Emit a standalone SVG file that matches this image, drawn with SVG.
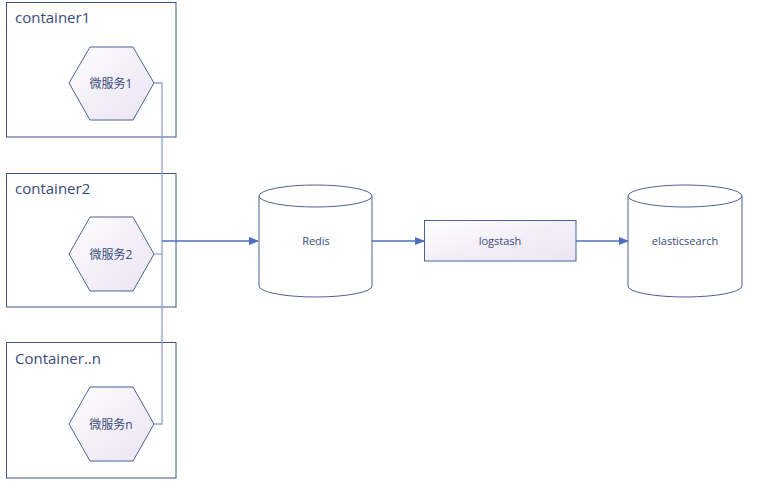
<svg xmlns="http://www.w3.org/2000/svg" width="761" height="483" viewBox="0 0 761 483">
<style>
.box{fill:#fff;stroke:#3d5488;stroke-width:1}
.hex{fill:url(#g);stroke:#4a6398;stroke-width:1}
.cyl{fill:#fff;stroke:#4a6398;stroke-width:1}
.t1{font-family:"Open Sans","Noto Sans CJK SC",sans-serif;font-size:15px;fill:#3a4a78}
.t2{font-family:"Open Sans","Noto Sans CJK SC",sans-serif;font-size:11px;fill:#3a4a78}
.t3{font-family:"Open Sans","Noto Sans CJK SC",sans-serif;font-size:12px;fill:#3a4a78}
.wire{fill:none;stroke:#8ea3d2;stroke-width:1.3}
.arr{fill:none;stroke:#4a6fc0;stroke-width:1.3}
</style>
<defs>
<linearGradient id="g" x1="0" y1="0" x2="1" y2="1">
<stop offset="0" stop-color="#ffffff"/>
<stop offset="0.5" stop-color="#f3eff8"/>
<stop offset="1" stop-color="#ebe5f3"/>
</linearGradient>
<marker id="ah" markerWidth="10" markerHeight="8" refX="9" refY="4" orient="auto" markerUnits="userSpaceOnUse">
<path d="M0,0 L10,4 L0,8 z" fill="#4a6fc0"/>
</marker>
</defs>
<rect width="761" height="483" fill="#fff"/>
<g id="container1">
<rect class="box" x="6.5" y="2.5" width="169.5" height="134.5"/>
<text class="t1" x="15" y="23">container1</text>
<polygon class="hex" points="69,83 90,47 133,47 154,83 133,120 90,120"/>
<text class="t3" x="111" y="88" text-anchor="middle">微服务1</text>
</g>
<g id="container2">
<rect class="box" x="6.5" y="173.5" width="169.5" height="133.5"/>
<text class="t1" x="15" y="194">container2</text>
<polygon class="hex" points="69,254 90,217 133,217 154,254 133,291 90,291"/>
<text class="t3" x="111" y="259" text-anchor="middle">微服务2</text>
</g>
<g id="containern">
<rect class="box" x="6.5" y="342.5" width="169.5" height="135.5"/>
<text class="t1" x="15" y="364">Container..n</text>
<polygon class="hex" points="69,424 90,387 133,387 154,424 133,461 90,461"/>
<text class="t3" x="111" y="429" text-anchor="middle">微服务n</text>
</g>
<g id="connectors">
<polyline class="wire" points="154,83 162,83 162,424 154,424"/>
<polyline class="wire" points="154,254 162,254"/>
<line class="arr" x1="162" y1="241" x2="258" y2="241" marker-end="url(#ah)"/>
<line class="arr" x1="372" y1="241" x2="424" y2="241" marker-end="url(#ah)"/>
<line class="arr" x1="576" y1="241" x2="628" y2="241" marker-end="url(#ah)"/>
</g>
<g id="redis">
<path class="cyl" d="M259,196 A56.5,11 0 0 1 372,196 L372,286 A56.5,11 0 0 1 259,286 Z"/>
<path class="cyl" d="M259,196 A56.5,11 0 0 0 372,196" fill="none"/>
<text class="t2" x="316" y="245" text-anchor="middle">Redis</text>
</g>
<g id="logstash">
<rect x="424.5" y="220.5" width="151.5" height="40.5" fill="url(#g)" stroke="#4a6398"/>
<text class="t2" x="500" y="245" text-anchor="middle">logstash</text>
</g>
<g id="elasticsearch">
<path class="cyl" d="M628,196 A57,11 0 0 1 742,196 L742,286 A57,11 0 0 1 628,286 Z"/>
<path class="cyl" d="M628,196 A57,11 0 0 0 742,196" fill="none"/>
<text class="t2" x="685" y="245" text-anchor="middle">elasticsearch</text>
</g>
</svg>
